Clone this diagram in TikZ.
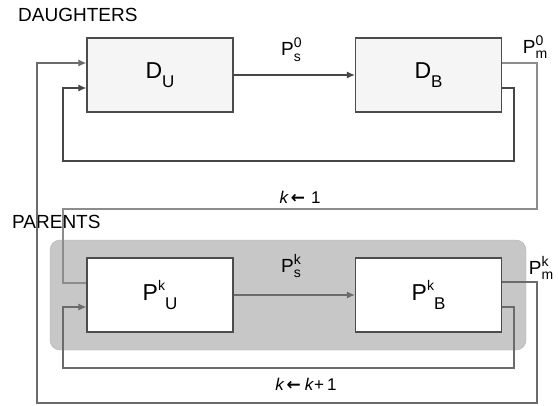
\documentclass[tikz,border=0pt]{standalone}
\usepackage{fontspec}
\setmainfont{Liberation Sans}
\newfontfamily\arrfont{DejaVu Sans}
\usetikzlibrary{arrows.meta}
\newcommand{\stk}[2]{\rlap{\raisebox{0.42em}{\fontsize{14}{14}\selectfont #1}}\raisebox{-0.3em}{\fontsize{14}{14}\selectfont #2}}
\newcommand{\bsub}[1]{\raisebox{-0.38em}{\fontsize{17}{17}\selectfont #1}}
\newcommand{\bsup}[1]{\raisebox{0.42em}{\fontsize{14}{14}\selectfont #1}}
\newcommand{\larr}{{\arrfont\bfseries\fontsize{17}{17}\selectfont ←}}
\begin{document}
\begin{tikzpicture}[x=1pt,y=-1pt,
  box/.style={draw=black!70, line width=1.3pt, minimum width=146pt, minimum height=74pt, inner sep=0pt, font=\fontsize{23}{27}\selectfont},
  dbox/.style={box, fill=black!4},
  pbox/.style={box, fill=white},
  ln/.style={draw=black!72, line width=1.1pt},
  lgt/.style={draw=black!45, line width=1.1pt},
  mid/.style={draw=black!58, line width=1.1pt},
  arr/.style={-{Latex[length=8pt,width=7pt]}},
  lab/.style={font=\fontsize{19}{21}\selectfont, inner sep=0pt},
  klab/.style={font=\fontsize{17}{20}\selectfont, inner sep=0pt},
  grp/.style={fill=black!22, draw=black!30, rounded corners=10pt, minimum width=476pt, minimum height=110pt, inner sep=0pt}
]
\useasboundingbox (0,0) rectangle (559,405);
\node[lab, anchor=west] (dt) at (18,15) {DAUGHTERS};
\node[lab, anchor=west] (pt) at (12,222) {PARENTS};
\node[grp] (g) at (288,295) {};

\node[dbox] (du) at (160,75) {D\bsub{U}};
\node[dbox] (db) at (428.5,75) {D\bsub{B}};
\node[pbox] (pu) at (160,295) {P\bsup{k}\bsub{U}};
\node[pbox] (pb) at (428.5,295) {P\bsup{k}\bsub{B}};

\node[lab] (ps0) at (291,50) {P\stk{0}{s}};
\node[lab] (pm0) at (535,47) {P\stk{0}{m}};
\node[lab] (psk) at (291,266) {P\stk{k}{s}};
\node[lab] (pmk) at (541,268) {P\stk{k}{m}};
\node[klab] (k1) at (300,197) {\textit{k}\kern2pt\larr\kern6pt1};
\node[klab] (k2) at (306,384) {\textit{k}\kern2pt\larr\kern4pt\textit{k}+\kern3pt1};

\coordinate (rx) at (537,209);
\coordinate (lx) at (63,209);
\coordinate (dr) at (514,161);
\coordinate (dl) at (63,161);
\coordinate (pr) at (514,368);
\coordinate (pl) at (63,368);
\coordinate (br) at (537,403);
\coordinate (bl) at (37,403);

\draw[ln, arr] (du) -- (db);
\draw[mid, arr] (pu) -- (pb);
\draw[lgt] ([yshift=12pt]db.east) -| (rx) -- (lx) |- ([yshift=12pt]pu.west);
\draw[ln, arr] ([yshift=-13pt]db.east) -| (dr) -- (dl) |- ([yshift=-13pt]du.west);
\draw[mid, arr] ([yshift=-12pt]pb.east) -| (pr) -- (pl) |- ([yshift=-12pt]pu.west);
\draw[mid, arr] ([yshift=13pt]pb.east) -| (br) -- (bl) |- ([yshift=12pt]du.west);
\end{tikzpicture}
\end{document}
